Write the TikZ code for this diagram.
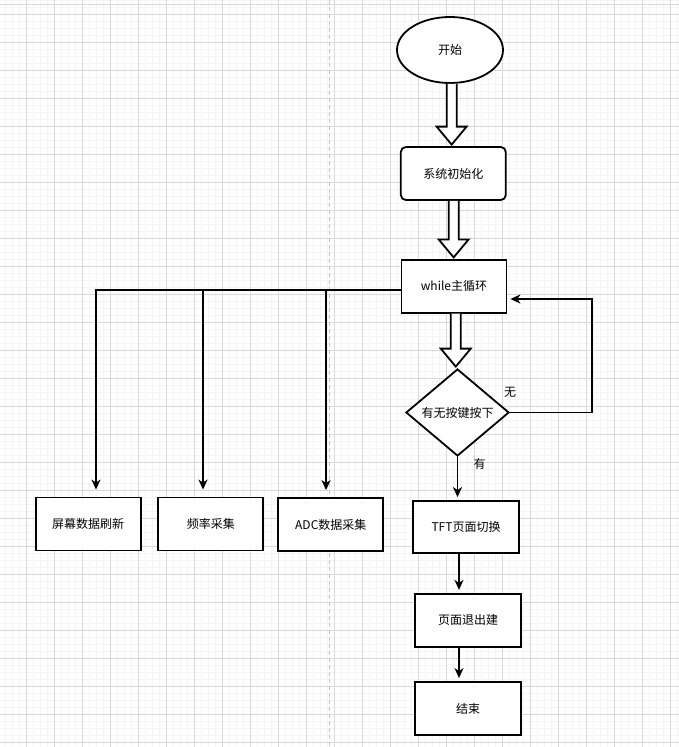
\documentclass[tikz,border=0pt]{standalone}
\usepackage{fontspec}
\setmainfont{Noto Sans CJK SC}
\usetikzlibrary{shapes.geometric,arrows.meta,calc,positioning}
\tikzset{>={Stealth[length=10pt,width=9pt,inset=3pt]}}
\tikzset{
  box/.style={draw, line width=1.8pt, fill=white, minimum width=105pt, minimum height=53pt, inner sep=0pt},
  minorgrid/.style={draw=black!4, line width=1pt},
  majorgrid/.style={draw=black!15, line width=1pt},
}
% hollow block arrow between two nodes
\newcommand{\fatarrow}[2]{%
  \coordinate (fa) at ($(#1.south)!.5!(#2.north)$);
  \draw[line width=1.8pt, fill=white, line join=miter]
    ($(fa|-#1.south)+(-5,0)$) -- ($(fa|-#2.north)+(-5,-19.5)$) -- ++(-10,0)
    -- ($(fa|-#2.north)+(0,-1.5)$) -- ($(fa|-#2.north)+(15,-19.5)$) -- ++(-10,0)
    -- ($(fa|-#1.south)+(5,0)$);
}

\begin{document}
\begin{tikzpicture}[x=1pt,y=-1pt,line width=1.8pt,font=\fontsize{12}{14}\selectfont]
    \useasboundingbox (0,0) rectangle (679,747);
    \fill[white] (0,0) rectangle (679,747);
    % grid
    \foreach \i in {0,...,96} \draw[minorgrid] ({5.7+7*\i},0) -- ++(0,747);
    \foreach \i in {0,...,106} \draw[minorgrid] (0,{0.3+7*\i}) -- ++(679,0);
    \foreach \i in {0,...,23} \draw[majorgrid] ({26.7+28*\i},0) -- ++(0,747);
    \foreach \i in {0,...,26} \draw[majorgrid] (0,{14.3+28*\i}) -- ++(679,0);
    \draw[black!15, line width=1pt] (0,4.3) -- (679,4.3);
    \draw[black!22, line width=1pt, dash pattern=on 4pt off 3pt] (329,0) -- (329,747);

    \node[draw, ellipse, fill=white, minimum width=106pt, minimum height=66pt] (start) at (450,50) {开始};
    \node[box, rounded corners=5pt] (init) at (453.3,173.5) {系统初始化};
    \node[box] (loop) at (454,286.3) {while主循环};
    \node[draw, diamond, fill=white, minimum width=103pt, minimum height=87pt, inner sep=0pt] (key) at (457.5,412.5) {有无按键按下};
    \node[box, minimum width=106pt, minimum height=52pt] (tft) at (466,527) {TFT页面切换};
    \node[box, minimum width=106pt] (quit) at (468,620.3) {页面退出建};
    \node[box, minimum width=106pt] (fin) at (468,708.5) {结束};
    \node[box] (scr) at (88.2,524) {屏幕数据刷新};
    \node[box] (freq) at (210.8,524) {频率采集};
    \node[box] (adc) at (330.8,524.5) {ADC数据采集};

    \fatarrow{start}{init}
    \fatarrow{init}{loop}
    \fatarrow{loop}{key}

    % branches to the left
    \coordinate (b1) at (96,290);
    \coordinate (b2) at (203,290);
    \coordinate (b3) at (326,290);
    \draw[->, shorten >=7pt] (loop.west |- b1) -- (b1) -- (b1 |- scr.north);
    \draw[->, shorten >=7pt] (b2) -- (b2 |- freq.north);
    \draw[->, shorten >=7pt] (b3) -- (b3 |- adc.north);

    % key loop
    \coordinate (ret) at (592,299);
    \draw[->, shorten >=3pt] (key.east) -| (ret) -- (ret -| loop.east);
    \node (no) at (510,392.5) {无};
    \draw[->, shorten >=3pt] (key.south) -- (key.south |- tft.north);
    \node (yes) at (479.5,464) {有};
    \coordinate (c1) at (459,0);
    \draw[->, shorten >=3pt] (c1 |- tft.south) -- (c1 |- quit.north);
    \draw[->, shorten >=3pt] (c1 |- quit.south) -- (c1 |- fin.north);
\end{tikzpicture}
\end{document}
